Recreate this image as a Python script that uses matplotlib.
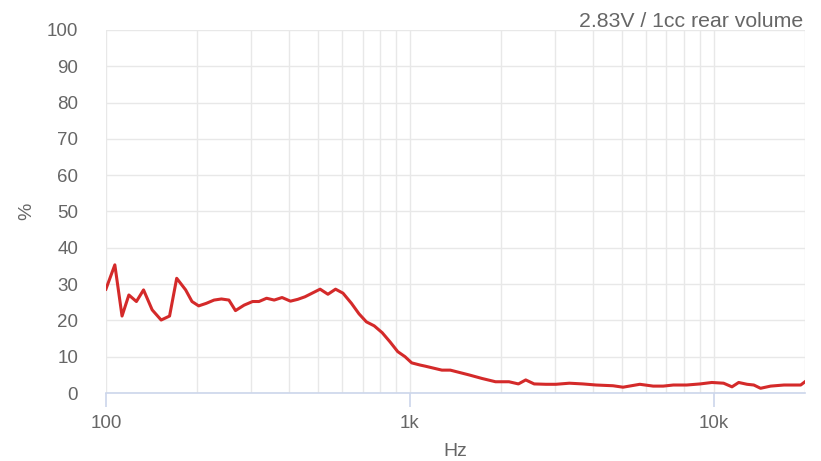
import matplotlib
matplotlib.use("Agg")
import matplotlib.pyplot as plt
from matplotlib.ticker import FixedLocator, NullFormatter

plt.rcParams['font.family'] = ['Liberation Sans', 'DejaVu Sans']

# data
freq_hz = [100, 107, 113, 119, 126, 133, 142, 152, 162, 171, 183, 192, 202, 214,
           227, 240, 254, 267, 285, 304, 319, 338, 358, 380, 405, 428, 452, 480,
           507, 538, 570, 603, 643, 681, 720, 764, 812, 861, 913, 965, 1015, 1082,
           1124, 1276, 1360, 1565, 1730, 1916, 2122, 2279, 2409, 2568, 2805, 3028,
           3354, 3712, 4108, 4667, 5036, 5719, 6329, 6831, 7371, 8157, 9036, 9872,
           10793, 11500, 12100, 12893, 13570, 14280, 15410, 17050, 19360, 20000]
thd_pct = [28.6, 35.3, 21.2, 27.0, 25.2, 28.4, 22.9, 20.1, 21.2, 31.6, 28.4, 25.2,
           24.0, 24.7, 25.6, 25.9, 25.6, 22.7, 24.2, 25.2, 25.2, 26.1, 25.6, 26.3,
           25.3, 25.8, 26.5, 27.6, 28.6, 27.2, 28.6, 27.5, 24.7, 21.8, 19.6, 18.5,
           16.6, 14.1, 11.4, 10.0, 8.3, 7.7, 7.4, 6.3, 6.3, 5.0, 4.0, 3.1, 3.1, 2.5,
           3.6, 2.5, 2.4, 2.4, 2.7, 2.5, 2.2, 2.0, 1.6, 2.4, 1.9, 1.9, 2.2, 2.2, 2.5,
           2.9, 2.7, 1.7, 2.9, 2.4, 2.2, 1.3, 1.9, 2.2, 2.2, 3.1]

x_ticks = [100, 1000, 10000]
x_tick_labels = ['100', '1k', '10k']
y_ticks = [0, 10, 20, 30, 40, 50, 60, 70, 80, 90, 100]

text_col = '#666666'
grid_col = '#e8e8e8'
axis_col = '#ccd6eb'

fig = plt.figure(figsize=(8.21, 4.61), dpi=100)
ax = fig.add_axes([0.129, 0.1475, 0.8515, 0.7875])

ax.plot(freq_hz, thd_pct, color='#d42a2a', linewidth=2.2, solid_joinstyle='round', zorder=3)

ax.set_xscale('log')
ax.set_xlim(100, 20000)
ax.set_ylim(0, 100)

ax.xaxis.set_major_locator(FixedLocator(x_ticks))
ax.set_xticklabels(x_tick_labels)
minor = [m * d for d in (100, 1000, 10000) for m in range(2, 10) if m * d <= 20000]
ax.xaxis.set_minor_locator(FixedLocator(minor))
ax.xaxis.set_minor_formatter(NullFormatter())
ax.set_yticks(y_ticks)

ax.grid(True, which='both', axis='x', color=grid_col, linewidth=1)
ax.grid(True, which='major', axis='y', color=grid_col, linewidth=1)
ax.set_axisbelow(True)

for s in ('top', 'right', 'left'):
    ax.spines[s].set_visible(False)
ax.spines['bottom'].set_color(axis_col)
ax.spines['bottom'].set_linewidth(1.2)

ax.tick_params(axis='x', which='major', colors=axis_col, length=10, width=1.2,
               labelcolor=text_col, labelsize=13.5, pad=6)
ax.tick_params(axis='x', which='minor', length=0)
ax.tick_params(axis='y', length=0, labelcolor=text_col, labelsize=13.5, pad=20)

ax.set_xlabel('Hz', color=text_col, fontsize=14, labelpad=8)
ax.set_ylabel('%', color=text_col, fontsize=14, labelpad=8)

fig.text(0.978, 0.953, '2.83V / 1cc rear volume', color=text_col, fontsize=15.3,
         ha='right', va='center')

fig.savefig('out.png', dpi=100)
